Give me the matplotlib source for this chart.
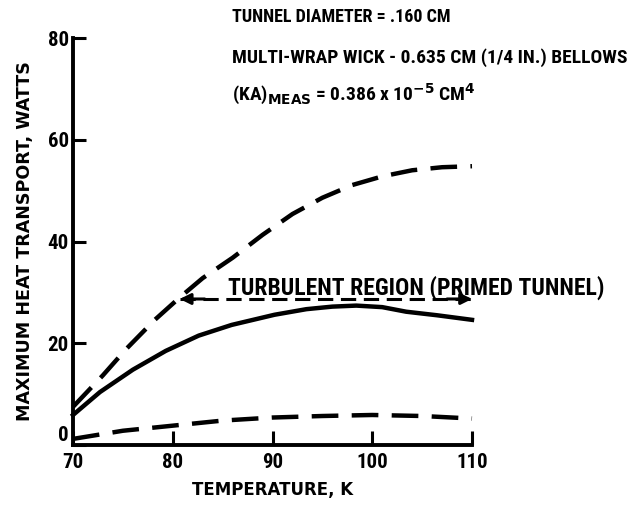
import matplotlib
matplotlib.use("Agg")
import matplotlib.pyplot as plt

# Temperature (K) and maximum heat transport (W) for the three curves
temp_upper = [70, 73, 75.3, 78.2, 80.7, 83, 86, 89, 92, 95, 98, 101, 104, 107, 110]
q_upper = [7.5, 13.7, 18.8, 24.6, 29.0, 32.8, 36.8, 41.3, 45.4, 48.6, 51.1, 52.8, 54.0, 54.6, 54.8]

temp_mid = [70, 72.7, 76, 79.3, 82.6, 85.9, 90.2, 93.4, 96, 98.4, 101, 103.4, 106.5, 110]
q_mid = [5.9, 10.4, 14.8, 18.5, 21.5, 23.6, 25.6, 26.7, 27.2, 27.4, 27.1, 26.2, 25.5, 24.6]

temp_low = [70, 75, 80, 85, 90, 95, 100, 105, 110]
q_low = [1.2, 2.8, 3.8, 4.8, 5.4, 5.7, 5.9, 5.7, 5.2]

# Turbulent-region span (primed tunnel)
turb_temp = [80.7, 110]
turb_q = [28.7, 28.7]

x_ticks = [70, 80, 90, 100, 110]
y_ticks = [0, 20, 40, 60, 80]

COND = ["Roboto Condensed", "DejaVu Sans Condensed", "DejaVu Sans"]
WIDE = ["DejaVu Sans"]
plt.rcParams["font.family"] = COND
plt.rcParams["font.weight"] = "bold"
plt.rcParams["mathtext.fontset"] = "dejavusans"
plt.rcParams["mathtext.default"] = "bf"

fig = plt.figure(figsize=(6.36, 5.07), dpi=100)
ax = fig.add_axes([73 / 636, 62 / 507, 399 / 636, 407 / 507])

ink = "black"
lw = 3.2
dash = (6, 3)

ax.plot(temp_upper, q_upper, color=ink, lw=lw, dashes=dash, clip_on=False,
        dash_capstyle="butt")
ax.plot(temp_mid, q_mid, color=ink, lw=lw, clip_on=False)
ax.plot(temp_low, q_low, color=ink, lw=lw, dashes=dash, clip_on=False,
        dash_capstyle="butt")

# Dashed span with arrowheads at both ends
ax.plot(turb_temp, turb_q, color=ink, lw=2.2, dashes=(5, 2.5), clip_on=False)
ax.annotate("", xy=(turb_temp[0], turb_q[0]), xytext=(turb_temp[0] + 2.5, turb_q[0]),
            arrowprops=dict(arrowstyle="-|>", color=ink, lw=2.2,
                            mutation_scale=16, shrinkA=0, shrinkB=0))
ax.annotate("", xy=(turb_temp[1], turb_q[1]), xytext=(turb_temp[1] - 2.5, turb_q[1]),
            arrowprops=dict(arrowstyle="-|>", color=ink, lw=2.2,
                            mutation_scale=16, shrinkA=0, shrinkB=0))

ax.text(85.5, 29.6, "TURBULENT REGION (PRIMED TUNNEL)", fontsize=17,
        fontweight="bold", ha="left", va="baseline", clip_on=False)

ax.set_xlim(70, 110)
ax.set_ylim(0, 80)
ax.set_xticks(x_ticks)
ax.set_yticks(y_ticks)
ax.set_xticklabels([str(v) for v in x_ticks])
ax.set_yticklabels([str(v) for v in y_ticks])

for s in ("top", "right"):
    ax.spines[s].set_visible(False)
for s in ("left", "bottom"):
    ax.spines[s].set_linewidth(2.8)
    ax.spines[s].set_color(ink)

ax.tick_params(axis="x", direction="in", length=10, width=2.2, pad=6,
               labelsize=15)
ax.tick_params(axis="y", direction="in", length=9, width=2.2, pad=3,
               labelsize=15)
for lab in ax.get_xticklabels() + ax.get_yticklabels():
    lab.set_fontweight("bold")
# the zero label sits just above the corner, clear of the "70"
ax.get_yticklabels()[0].set_verticalalignment("bottom")

ax.set_xlabel("TEMPERATURE, K", fontsize=12, fontweight="bold", labelpad=6,
              family=WIDE)
ax.set_ylabel("MAXIMUM HEAT TRANSPORT, WATTS", fontsize=12.6,
              fontweight="bold", labelpad=10, family=WIDE)

# Test-condition notes above the plot
ax.text(85.9, 84.2, "TUNNEL DIAMETER = .160 CM", fontsize=13,
        fontweight="bold", ha="left", va="center", clip_on=False)
ax.text(85.9, 76.2, "MULTI-WRAP WICK - 0.635 CM (1/4 IN.) BELLOWS", fontsize=14,
        fontweight="bold", ha="left", va="center", clip_on=False)
ax.text(85.9, 69.0,
        r"(KA)$_{\mathbf{MEAS}}$ = 0.386 x 10$^{\mathbf{-5}}$ CM$^{\mathbf{4}}$",
        fontsize=14, fontweight="bold", ha="left", va="center", clip_on=False)

fig.savefig("out.png", dpi=100)
